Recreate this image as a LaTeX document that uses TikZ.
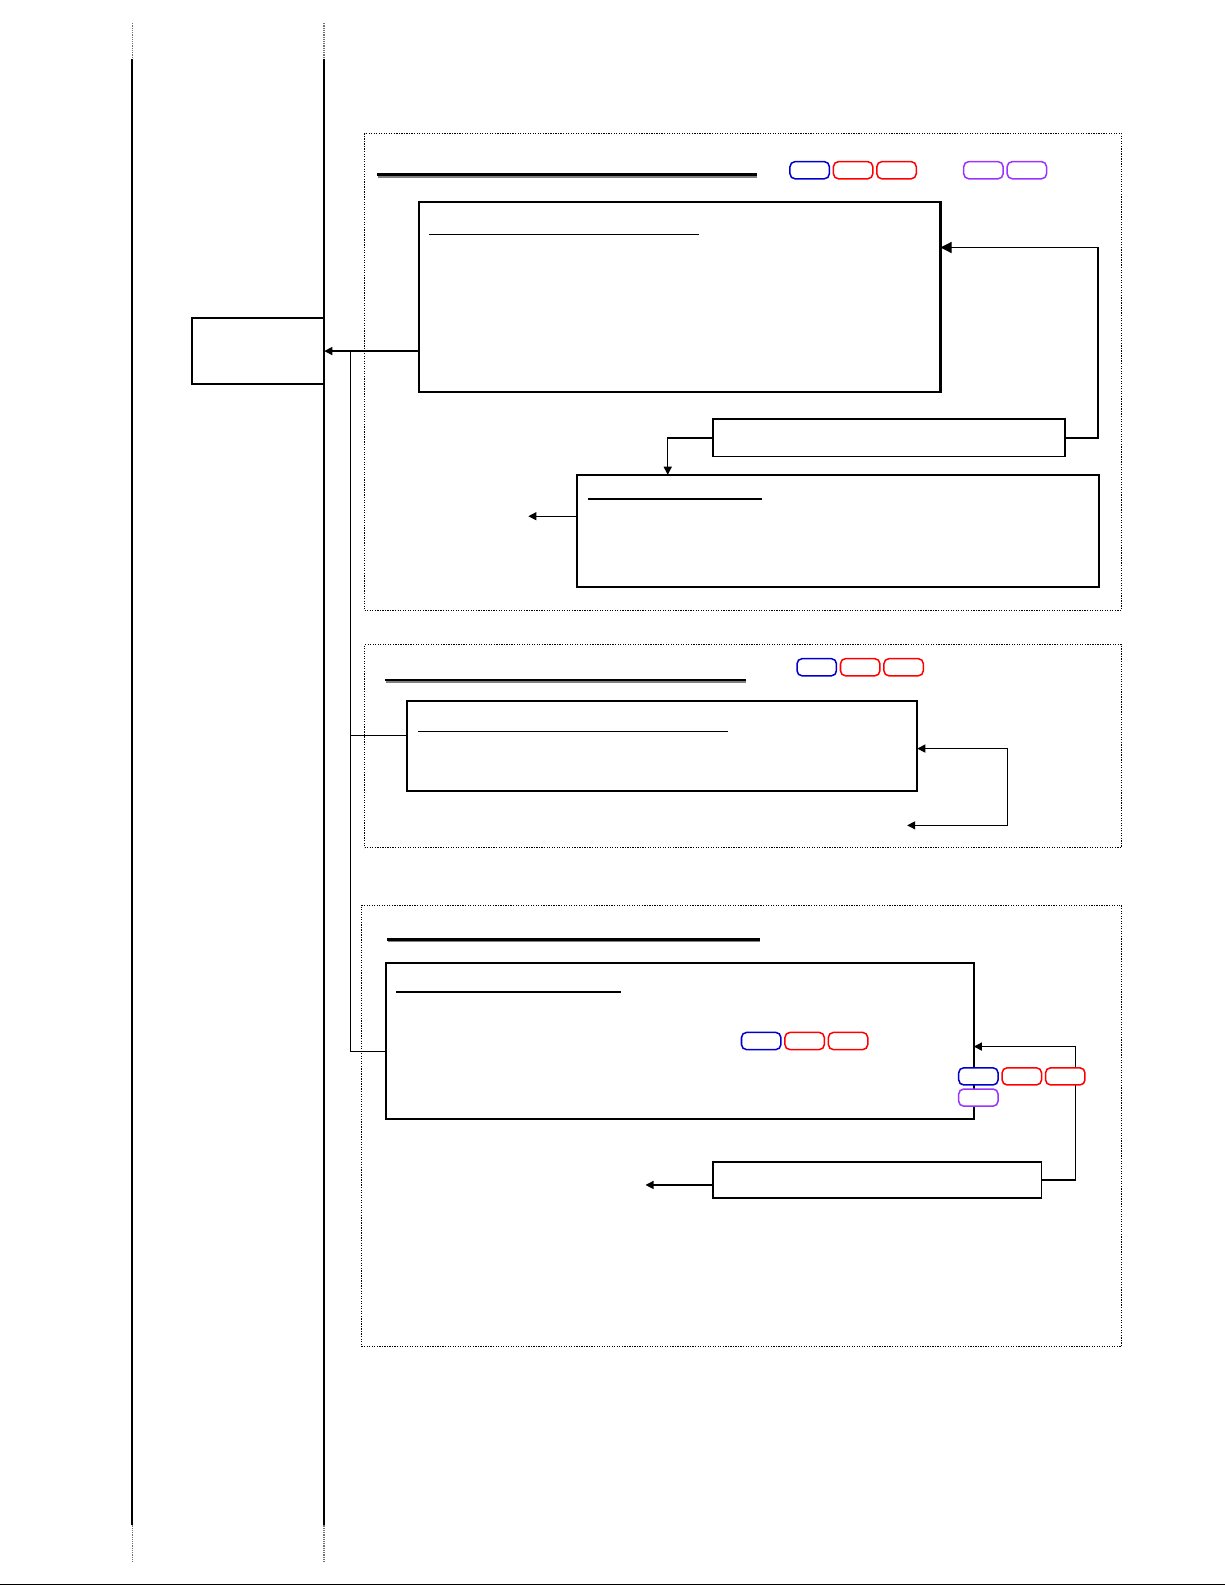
\documentclass[tikz,border=0pt]{standalone}
\usepackage{tikz}
\usetikzlibrary{positioning,arrows.meta}

\definecolor{tagblue}{RGB}{0,0,205}
\definecolor{tagred}{RGB}{255,0,0}
\definecolor{tagviolet}{RGB}{153,51,255}

\begin{document}
\begin{tikzpicture}[
      x=1pt, y=-1pt,
      node distance=4pt and 4pt,
      every node/.style={
        inner sep=0pt, outer sep=0pt
      },
      box/.style={draw, line width=2pt, anchor=north west},
      thinbox/.style={draw, line width=1.6pt, anchor=north west},
      frame/.style={draw, line width=1.1pt, dash pattern=on 1.2pt off 1.3pt, anchor=north west},
      pill/.style={draw=#1, fill=white, rounded corners=5pt, line width=1.5pt,
        minimum width=39pt, minimum height=17pt},
      link/.style={line width=1.2pt},
      head/.style={line width=2.6pt},
      >={Triangle[length=8pt,width=8pt]}
    ]
    \useasboundingbox (0,0) rectangle (1213,1569);

    % Swim lanes
    \foreach \x in {131,321} {
      \draw[line width=2pt] (\x,58) -- (\x,1510);
      \draw[black!55, line width=1.6pt, dash pattern=on 1.2pt off 1pt] (\x,23) -- (\x,58);
      \draw[black!55, line width=1.6pt, dash pattern=on 1.2pt off 1pt] (\x,1510) -- (\x,1546);
    }
    \draw[line width=1pt] (0,1568.5) -- (1213,1568.5);

    \node (lbox) [box, minimum width=131pt, minimum height=65pt] at (190,315) {};

    % Group 1
    \node (f1) [frame, minimum width=749pt, minimum height=472pt] at (361,132) {};
    \draw[gray, head] (374,174.5) -- (749,174.5);
    \draw[head] (373,173) -- (749,173);
    \node (bA) [box, minimum width=516pt, minimum height=188pt] at (415,200) {};
    \draw[line width=1.3pt] (425,232) -- (692,232);
    \node (bB) [thinbox, minimum width=348pt, minimum height=37pt] at (706,415) {};
    \node (bC) [box, minimum width=517pt, minimum height=111pt] at (571,470) {};
    \draw[line width=1.3pt] (582,494) -- (754,494);
    \coordinate (o1) at (523,511);

    % Group 2
    \node (f2) [frame, minimum width=749pt, minimum height=201pt] at (361,638) {};
    \draw[gray, head] (382,674.5) -- (738,674.5);
    \draw[head] (381,673) -- (738,673);
    \node (bD) [box, minimum width=505pt, minimum height=89pt] at (403,694) {};
    \draw[line width=1.3pt] (414,724) -- (721,724);
    \coordinate (o2) at (898,817);

    % Group 3
    \node (f3) [frame, minimum width=752pt, minimum height=437pt] at (358,896) {};
    \draw[gray, head] (384,931.5) -- (752,931.5);
    \draw[head] (383,930) -- (752,930);
    \node (bE) [box, minimum width=582pt, minimum height=155pt] at (382,953) {};
    \draw[line width=1.3pt] (392,982) -- (615,982);
    \node (bF) [thinbox, minimum width=325pt, minimum height=36pt] at (706,1150) {};
    \coordinate (o3) at (639,1173);

    % Trunk
    \coordinate (j1) at (347,347.5);
    \coordinate (j2) at (347,728);
    \coordinate (j3) at (347,1041);
    \draw[link,->] (bA.west |- lbox.east) -- (lbox.east);
    \draw[link] (j1) -- (j3);
    \draw[link] (j2) -- (j2 -| bD.west);
    \draw[link] (j3) -- (j3 -| bE.west);

    % Connectors
    \draw[link,-{Triangle[length=11pt,width=11pt]}] (bB.east) -| (1087,245) -- (bA.east |- 0,245);
    \draw[link,->] (bB.west) -| (bC.north -| 661,0);
    \draw[link,->] (bC.west |- o1) -- (o1);
    \draw[link,<->] (o2) -- (997,817) -- (997,741) -- (bD.east |- 0,741);
    \draw[link,->] (bF.east) -| (1065,1036) -- (bE.east |- 0,1036);
    \draw[link,->] (bF.west |- o3) -- (o3);

    % Tags
    \node (p1) [pill=tagblue, anchor=north west] at (782,160) {};
    \node (p2) [pill=tagred, right=of p1] {};
    \node (p3) [pill=tagred, right=of p2] {};
    \node (p4) [pill=tagviolet, anchor=north west] at (954,160) {};
    \node (p5) [pill=tagviolet, right=of p4] {};

    \node (q1) [pill=tagblue, anchor=north west] at (789,652) {};
    \node (q2) [pill=tagred, right=of q1] {};
    \node (q3) [pill=tagred, right=of q2] {};

    \node (r1) [pill=tagblue, anchor=north west] at (734,1022) {};
    \node (r2) [pill=tagred, right=of r1] {};
    \node (r3) [pill=tagred, right=of r2] {};

    \node (s1) [pill=tagblue, anchor=north west] at (949,1057) {};
    \node (s2) [pill=tagred, right=of s1] {};
    \node (s3) [pill=tagred, right=of s2] {};
    \node (s4) [pill=tagviolet, below=of s1] {};
  \end{tikzpicture}
\end{document}
